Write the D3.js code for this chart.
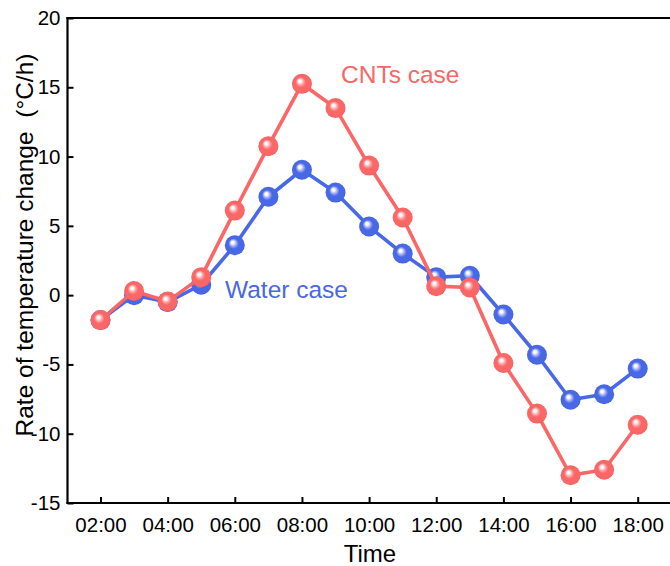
<!DOCTYPE html>
<html>
<head>
<meta charset="utf-8">
<script src="https://cdn.jsdelivr.net/npm/d3@7"></script>
<style>
  html, body { margin: 0; padding: 0; background: #fff; }
  svg { display: block; font-family: "Liberation Sans", Arial, sans-serif; }
</style>
</head>
<body>
<svg id="chart" width="670" height="566"></svg>
<script>
// ---- data ----
const hours = [2, 3, 4, 5, 6, 7, 8, 9, 10, 11, 12, 13, 14, 15, 16, 17, 18];
const cntsCase = [-1.8, 0.3, -0.45, 1.3, 6.1, 10.75, 15.25, 13.5, 9.35, 5.6, 0.65, 0.55, -4.9, -8.55, -13.0, -12.6, -9.35];
const waterCase = [-1.8, 0.0, -0.5, 0.75, 3.6, 7.1, 9.05, 7.4, 4.95, 3.0, 1.3, 1.4, -1.4, -4.3, -7.55, -7.15, -5.3];
const xTickHours = [2, 4, 6, 8, 10, 12, 14, 16, 18];
const xTickLabels = ["02:00", "04:00", "06:00", "08:00", "10:00", "12:00", "14:00", "16:00", "18:00"];
const yTicks = [-15, -10, -5, 0, 5, 10, 15, 20];

const redColor = "#fb6666";
const blueColor = "#4868e6";

const svg = d3.select("#chart");
const plotLeft = 67.5, plotTop = 18, plotBottom = 503, plotRight = 680;

const x = d3.scaleLinear().domain([2, 18]).range([100.5, 637.7]);
const y = d3.scaleLinear().domain([-15, 20]).range([plotBottom, plotTop]);

// gradients for sphere markers
const defs = svg.append("defs");
function sphereGrad(id, base, light, dark) {
  const g = defs.append("radialGradient").attr("id", id)
    .attr("cx", "50%").attr("cy", "50%").attr("r", "52%")
    .attr("fx", "38%").attr("fy", "34%");
  g.append("stop").attr("offset", "0%").attr("stop-color", "#ffffff");
  g.append("stop").attr("offset", "14%").attr("stop-color", "#fdf6f8");
  g.append("stop").attr("offset", "32%").attr("stop-color", light);
  g.append("stop").attr("offset", "50%").attr("stop-color", base);
  g.append("stop").attr("offset", "88%").attr("stop-color", base);
  g.append("stop").attr("offset", "100%").attr("stop-color", dark);
}
sphereGrad("gRed", redColor, "#fca3a3", "#ec5a5a");
sphereGrad("gBlue", blueColor, "#9aaaf2", "#3d5ad6");

// axes
const yAxis = d3.axisLeft(y).tickValues(yTicks).tickSizeInner(-6).tickSizeOuter(0).tickPadding(8)
  .tickFormat(d => d < 0 ? "-" + Math.abs(d) : String(d));
const gy = svg.append("g").attr("transform", `translate(${plotLeft},0)`).call(yAxis);
gy.select(".domain").remove();
gy.selectAll(".tick line").attr("stroke", "#000").attr("stroke-width", 2);
gy.selectAll(".tick text").attr("font-size", 20.5).attr("fill", "#000")
  .attr("font-family", "'Liberation Sans', Arial, sans-serif").attr("x", -7);

const xAxis = d3.axisBottom(x).tickValues(xTickHours).tickSizeInner(-6).tickSizeOuter(0).tickPadding(10)
  .tickFormat((d, i) => xTickLabels[i]);
const gx = svg.append("g").attr("transform", `translate(0,${plotBottom})`).call(xAxis);
gx.select(".domain").remove();
gx.selectAll(".tick line").attr("stroke", "#000").attr("stroke-width", 2);
gx.selectAll(".tick text").attr("font-size", 20.5).attr("fill", "#000")
  .attr("font-family", "'Liberation Sans', Arial, sans-serif").attr("y", 10).attr("dy", "0.95em");

// frame lines (left, bottom, top)
svg.append("line").attr("x1", plotLeft).attr("x2", plotLeft).attr("y1", plotTop - 1).attr("y2", plotBottom + 1)
  .attr("stroke", "#000").attr("stroke-width", 2.2);
svg.append("line").attr("x1", plotLeft - 1).attr("x2", plotRight).attr("y1", plotBottom).attr("y2", plotBottom)
  .attr("stroke", "#000").attr("stroke-width", 2.2);
svg.append("line").attr("x1", plotLeft - 1).attr("x2", plotRight).attr("y1", plotTop).attr("y2", plotTop)
  .attr("stroke", "#000").attr("stroke-width", 2.2);

// series
function drawSeries(vals, color, grad) {
  const pts = hours.map((h, i) => [h, vals[i]]);
  const line = d3.line().x(d => x(d[0])).y(d => y(d[1]));
  svg.append("path").datum(pts).attr("d", line).attr("fill", "none")
    .attr("stroke", color).attr("stroke-width", 3.6).attr("stroke-linejoin", "round");
  svg.append("g").selectAll("circle").data(pts).join("circle")
    .attr("cx", d => x(d[0])).attr("cy", d => y(d[1])).attr("r", 10)
    .attr("fill", `url(#${grad})`);
}
drawSeries(waterCase, blueColor, "gBlue");
drawSeries(cntsCase, redColor, "gRed");

// labels
svg.append("text").attr("x", 341).attr("y", 83).attr("font-size", 24.5)
  .attr("fill", redColor).text("CNTs case");
svg.append("text").attr("x", 225).attr("y", 298).attr("font-size", 24.5)
  .attr("fill", blueColor).text("Water case");

// axis titles
svg.append("text").attr("x", 370).attr("y", 562).attr("text-anchor", "middle")
  .attr("font-size", 24).attr("fill", "#000").text("Time");
svg.append("text").attr("transform", "translate(33,245) rotate(-90)").attr("text-anchor", "middle")
  .attr("font-size", 24.5).attr("fill", "#000").attr("xml:space", "preserve")
  .text("Rate of temperature change  (\u00b0C/h)");
</script>
</body>
</html>
